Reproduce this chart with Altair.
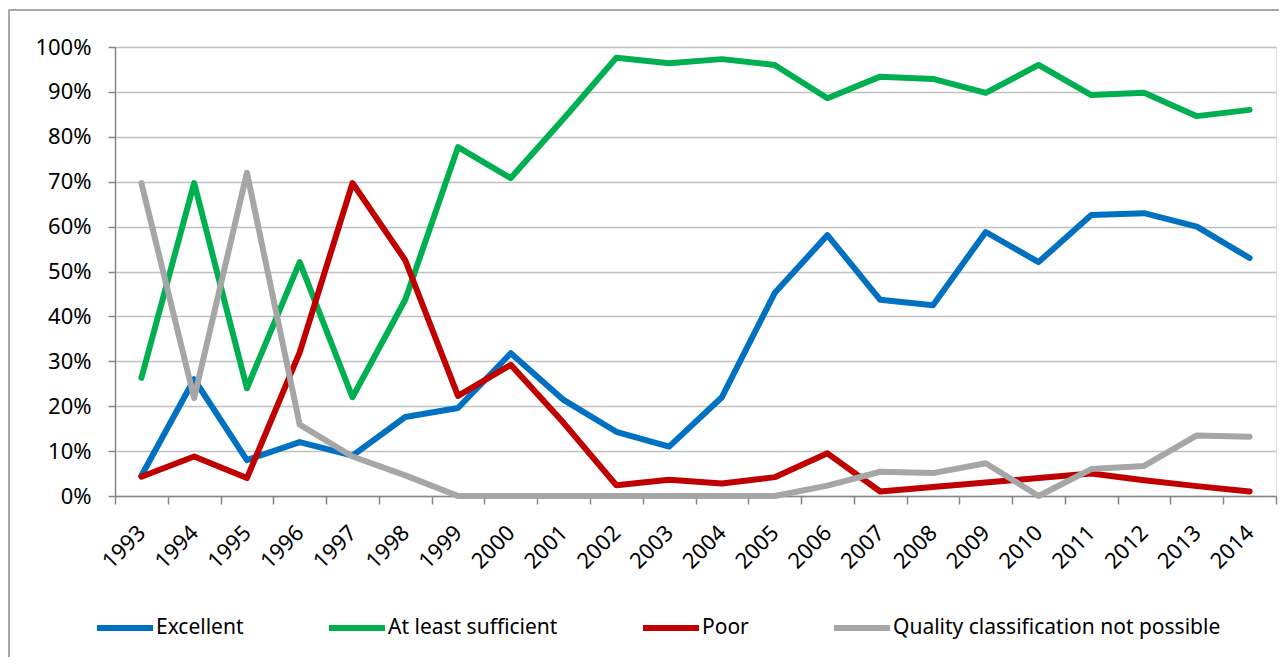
import altair as alt
import pandas as pd

years = [str(y) for y in range(1993, 2015)]
series = ["Excellent", "At least sufficient", "Poor", "Quality classification not possible"]
colors = ["#0070C0", "#00B050", "#C00000", "#A6A6A6"]

excellent = [4.5, 26, 8, 12, 9, 17.6, 19.6, 31.8, 21.4, 14.3, 11, 22, 45.2, 58.1, 43.7, 42.5, 58.8, 52.1, 62.6, 63, 60, 53]
sufficient = [26.3, 69.7, 24, 52.1, 22, 43.7, 77.7, 70.8, 84, 97.6, 96.4, 97.3, 96, 88.6, 93.4, 92.9, 89.8, 96, 89.3, 89.8, 84.6, 86]
poor = [4.3, 8.8, 4, 32, 69.7, 52.5, 22.3, 29.2, 16.3, 2.4, 3.6, 2.8, 4.2, 9.5, 1, 2, 3, 4, 5, 3.5, 2.2, 1]
notpossible = [69.7, 21.8, 72, 15.9, 8.8, 4.6, 0, 0, 0, 0, 0, 0, 0, 2.3, 5.4, 5.1, 7.3, 0, 6, 6.7, 13.5, 13.2]

rows = []
for name, vals in zip(series, [excellent, sufficient, poor, notpossible]):
    for y, v in zip(years, vals):
        rows.append({"year": y, "series": name, "value": v})
df = pd.DataFrame(rows)

FONT = "Noto Sans"

base = alt.Chart(df).encode(
    x=alt.X("year:O", title=None,
            scale=alt.Scale(type="band", paddingInner=0, paddingOuter=0),
            axis=alt.Axis(labelAngle=-45, labelAlign="right", labelBaseline="middle",
                          labelPadding=25, tickBand="extent", tickSize=8,
                          domainColor="#868686", tickColor="#868686", domainWidth=1.5,
                          tickWidth=1.5, grid=False, labelFontSize=22, labelFont=FONT,
                          labelColor="#000000")),
    y=alt.Y("value:Q", title=None,
            scale=alt.Scale(domain=[0, 100], nice=False),
            axis=alt.Axis(values=list(range(0, 101, 10)), labelExpr="datum.value + '%'",
                          tickSize=7, labelPadding=17, domainColor="#868686",
                          tickColor="#868686", domainWidth=1.5, tickWidth=1.5,
                          gridColor="#C0C0C0", gridWidth=1.5, labelFontSize=22,
                          labelFont=FONT, labelColor="#000000")),
    color=alt.Color("series:N", scale=alt.Scale(domain=series, range=colors),
                    legend=alt.Legend(title=None, orient="none", direction="horizontal",
                                      legendX=-21, legendY=550, symbolType="stroke",
                                      symbolSize=3136, symbolStrokeWidth=6,
                                      labelOffset=0, columnPadding=73, labelFontSize=21,
                                      labelFont=FONT, labelColor="#000000", padding=0,
                                      labelLimit=500)),
)

layers = []
for name in series:
    layers.append(
        base.transform_filter(alt.datum.series == name)
        .mark_line(strokeWidth=6, strokeCap="round", strokeJoin="round")
    )

frame = alt.Chart(pd.DataFrame({"a": [0]})).mark_rect(
    fill=None, stroke="#8C8C8C", strokeWidth=1.5
).encode(
    x=alt.value(-106), x2=alt.value(1175), y=alt.value(-37), y2=alt.value(623)
)

chart = alt.layer(frame, *layers).properties(
    width=1161, height=449,
    autosize=alt.AutoSizeParams(type="none"),
    padding={"left": 107, "top": 39, "right": 3, "bottom": 161},
).configure_view(stroke=None).configure(font=FONT)

chart.save("out.html", embed_options={"renderer": "svg", "actions": False})
